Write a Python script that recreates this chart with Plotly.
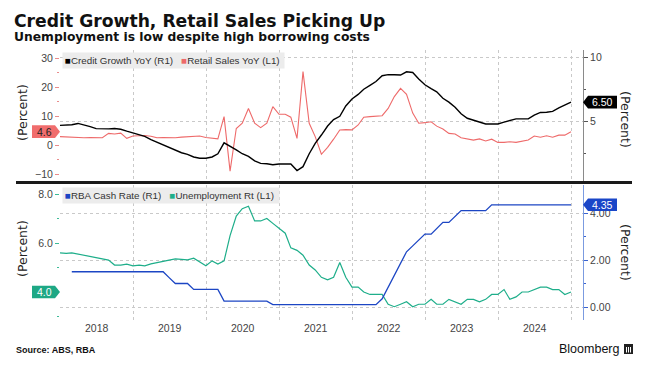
import plotly.graph_objects as go
import pandas as pd

# ---------------- data (month-end, Dec 2017 .. Dec 2024) ----------------
dates = pd.date_range("2017-12-01", periods=85, freq="MS") + pd.offsets.MonthEnd(0)

credit_growth = [4.70, 4.73, 4.75, 4.85, 4.75, 4.60, 4.45, 4.42, 4.43, 4.46,
                 4.40, 4.25, 4.10, 4.00, 3.85, 3.60, 3.40, 3.20, 2.95, 2.80,
                 2.58, 2.45, 2.25, 2.15, 2.15, 2.25, 2.50, 3.35, 3.10, 2.80,
                 2.50, 2.30, 1.95, 1.75, 1.72, 1.65, 1.70, 1.71, 1.70, 1.20,
                 1.50, 2.50, 3.30, 3.95, 4.65, 5.15, 5.40, 6.20, 6.75, 7.10,
                 7.50, 7.80, 8.10, 8.55, 8.63, 8.62, 8.60, 8.85, 8.80, 8.30,
                 7.85, 7.55, 7.30, 6.80, 6.50, 6.10, 5.60, 5.25, 5.10, 4.90,
                 4.81, 4.81, 4.81, 4.95, 5.10, 5.20, 5.20, 5.20, 5.50, 5.70,
                 5.72, 5.78, 6.05, 6.25, 6.50]

retail_sales = [2.9, 2.8, 2.7, 2.5, 2.5, 2.6, 2.5, 2.5, 4.0, 3.8,
                4.1, 2.3, 3.1, 3.2, 3.3, 3.0, 2.5, 2.6, 2.5, 2.5,
                2.7, 2.8, 3.0, 3.1, 2.6, 2.3, 2.1, 9.8, -9.0, 5.7,
                7.5, 12.6, 7.5, 6.0, 7.5, 13.2, 10.6, 10.6, 9.6, 2.3,
                25.3, 7.5, 2.9, -3.2, -0.8, 2.0, 5.2, 5.3, 5.2, 6.9,
                9.6, 9.8, 9.9, 10.1, 12.6, 16.7, 19.5, 17.5, 11.0, 7.5,
                7.7, 8.0, 6.5, 5.5, 4.0, 3.8, 2.5, 2.2, 1.7, 2.1,
                1.4, 2.0, 0.9, 0.9, 1.1, 0.9, 1.3, 1.7, 3.1, 2.7,
                3.2, 2.7, 3.4, 3.4, 4.6]

unemployment = [5.60, 5.58, 5.60, 5.55, 5.50, 5.45, 5.40, 5.35, 5.30, 5.10,
                5.10, 5.14, 5.07, 5.10, 5.07, 5.15, 5.21, 5.25, 5.30, 5.35,
                5.33, 5.31, 5.38, 5.21, 5.07, 5.27, 5.14, 5.27, 6.30, 7.10,
                7.40, 7.50, 6.90, 6.90, 7.00, 6.80, 6.60, 6.40, 5.80, 5.70,
                5.50, 5.10, 4.90, 4.60, 4.50, 4.60, 5.20, 4.60, 4.20, 4.20,
                4.00, 3.90, 3.90, 3.90, 3.50, 3.40, 3.50, 3.60, 3.40, 3.50,
                3.50, 3.70, 3.50, 3.50, 3.70, 3.60, 3.50, 3.70, 3.70, 3.60,
                3.70, 3.90, 3.90, 4.10, 3.70, 3.80, 4.00, 4.00, 4.10, 4.20,
                4.20, 4.10, 4.10, 3.90, 4.00]

cash_rate = [None, None, 1.50, 1.50, 1.50, 1.50, 1.50, 1.50, 1.50, 1.50,
             1.50, 1.50, 1.50, 1.50, 1.50, 1.50, 1.50, 1.50, 1.25, 1.00,
             1.00, 1.00, 0.75, 0.75, 0.75, 0.75, 0.75, 0.25, 0.25, 0.25,
             0.25, 0.25, 0.25, 0.25, 0.25, 0.10, 0.10, 0.10, 0.10, 0.10,
             0.10, 0.10, 0.10, 0.10, 0.10, 0.10, 0.10, 0.10, 0.10, 0.10,
             0.10, 0.10, 0.10, 0.35, 0.85, 1.35, 1.85, 2.35, 2.60, 2.85,
             3.10, 3.10, 3.35, 3.60, 3.60, 3.85, 4.10, 4.10, 4.10, 4.10,
             4.10, 4.35, 4.35, 4.35, 4.35, 4.35, 4.35, 4.35, 4.35, 4.35,
             4.35, 4.35, 4.35, 4.35, 4.35]

series_names = ["Credit Growth YoY (R1)", "Retail Sales YoY (L1)",
                "RBA Cash Rate (R1)", "Unemployment Rt (L1)"]

# ---------------- styling ----------------
C_CREDIT = "#000000"
C_RETAIL = "#ee6a6a"
C_UNEMP = "#1eae8a"
C_CASH = "#1c46c4"
FONT = "Liberation Sans, Arial, sans-serif"
FONT_W = "DejaVu Sans, Verdana, sans-serif"
TICKC = "#444444"

W, H = 657, 374
PL, PR, PT, PB = 60, 583, 50, 320   # plot area in pixels


def px(x):
    return (x - PL) / (PR - PL)


def py(y):
    return (PB - y) / (PB - PT)


fig = go.Figure()

fig.add_trace(go.Scatter(x=dates, y=retail_sales, mode="lines", name=series_names[1],
                         line=dict(color=C_RETAIL, width=1.1), xaxis="x", yaxis="y",
                         showlegend=False))
fig.add_trace(go.Scatter(x=dates, y=credit_growth, mode="lines", name=series_names[0],
                         line=dict(color=C_CREDIT, width=1.4), xaxis="x", yaxis="y2",
                         showlegend=False))
fig.add_trace(go.Scatter(x=dates, y=unemployment, mode="lines", name=series_names[3],
                         line=dict(color=C_UNEMP, width=1.2), xaxis="x2", yaxis="y3",
                         showlegend=False))
fig.add_trace(go.Scatter(x=dates, y=cash_rate, mode="lines", name=series_names[2],
                         line=dict(color=C_CASH, width=1.3), xaxis="x2", yaxis="y4",
                         showlegend=False))

xrange = ["2017-12-31", "2025-03-01"]
top_dom = [py(181), 1.0]
bot_dom = [0.0, py(185)]

common_x = dict(range=xrange, dtick="M12", tick0="2018-01-01", showgrid=True,
                gridcolor="#c9c9c9", griddash="dot", gridwidth=1, zeroline=False,
                showline=False, ticks="")
ytick_font = dict(family=FONT, size=10.5, color=TICKC)

fig.update_layout(
    width=W, height=H,
    margin=dict(l=PL, r=W - PR, t=PT, b=H - PB, pad=0),
    paper_bgcolor="white", plot_bgcolor="white",
    showlegend=False,
    xaxis=dict(domain=[0, 1], anchor="y", showticklabels=False, **common_x),
    xaxis2=dict(domain=[0, 1], anchor="y3", matches="x", showticklabels=True,
                ticklabelmode="period", tickformat="%Y",
                tickfont=dict(family=FONT, size=10.5, color=TICKC), **common_x),
    yaxis=dict(domain=top_dom, anchor="x", side="left",
               range=[(145 - 181) / 2.9, (145 - 50) / 2.9],
               tickvals=[-10, 0, 10, 20, 30], ticks="outside", ticklen=4,
               tickcolor="#e98c8c", tickfont=ytick_font, showgrid=False,
               zeroline=False, showline=False,
               minor=dict(dtick=5, tick0=0, ticks="outside", ticklen=2,
                          tickcolor="#e98c8c", showgrid=False)),
    yaxis2=dict(domain=top_dom, anchor="x", overlaying="y", side="right",
                range=[(186 - 181) / 12.9, (186 - 50) / 12.9],
                tickvals=[5, 10], ticks="outside", ticklen=4, tickcolor="#555555",
                tickfont=ytick_font, showgrid=True, gridcolor="#c9c9c9",
                griddash="dot", zeroline=False, showline=True,
                linecolor="#8a8a8a", linewidth=1,
                minor=dict(tickvals=[2.5, 7.5], ticks="outside", ticklen=2,
                           tickcolor="#555555", showgrid=False)),
    yaxis3=dict(domain=bot_dom, anchor="x2", side="left",
                range=[6 + (243 - 320) / 24.5, 6 + (243 - 185) / 24.5],
                tickvals=[4, 6, 8], tickformat=".1f", ticks="outside", ticklen=4,
                tickcolor="#3dbb98", tickfont=ytick_font, showgrid=False,
                zeroline=False, showline=False,
                minor=dict(tickvals=[3, 5, 7], ticks="outside", ticklen=2,
                           tickcolor="#3dbb98", showgrid=False)),
    yaxis4=dict(domain=bot_dom, anchor="x2", overlaying="y3", side="right",
                range=[(307 - 320) / 23.5, (307 - 185) / 23.5],
                tickvals=[0, 2, 4], tickformat=".2f", ticks="outside", ticklen=4,
                tickcolor="#3a64d0", tickfont=ytick_font, showgrid=True,
                gridcolor="#c9c9c9", griddash="dot", zeroline=False,
                showline=True, linecolor="#7b9be0", linewidth=1,
                minor=dict(tickvals=[1, 3], ticks="outside", ticklen=2,
                           tickcolor="#3a64d0", showgrid=False)),
)

shapes = []
annotations = []

# separator between panels
shapes.append(dict(type="line", xref="paper", yref="paper", x0=px(16), x1=px(632),
                   y0=py(182.5), y1=py(182.5), line=dict(color="#1a1a1a", width=3)))


def tag(side, yref, value, text, bg, fg, ppu):
    d = 6.3 / ppu
    if side == "left":
        xa, xb, xt = px(32), px(55), px(60)
        cx = px(44)
    else:
        xa, xb, xt = px(617), px(588), px(583)
        cx = px(602.5)
    path = (f"M {xa},{value + d} L {xb},{value + d} L {xt},{value} "
            f"L {xb},{value - d} L {xa},{value - d} Z")
    shapes.append(dict(type="path", xref="paper", yref=yref, path=path,
                       fillcolor=bg, line=dict(color=bg, width=0), layer="above"))
    annotations.append(dict(xref="paper", yref=yref, x=cx, y=value, text=text,
                            showarrow=False, xanchor="center", yanchor="middle",
                            font=dict(family=FONT, size=10.5, color=fg)))


tag("left", "y", retail_sales[-1], f"{retail_sales[-1]:.1f}", "#f06d6d", "#222222", 2.9)
tag("right", "y2", credit_growth[-1], f"{credit_growth[-1]:.2f}", "#000000", "#ffffff", 12.9)
tag("left", "y3", unemployment[-1], f"{unemployment[-1]:.1f}", "#1ea885", "#ffffff", 24.5)
tag("right", "y4", cash_rate[-1], f"{cash_rate[-1]:.2f}", "#1a46c8", "#ffffff", 23.5)

# legends (boxes)
legend_font = dict(family=FONT, size=9.8, color="#333333")
annotations.append(dict(
    xref="paper", yref="paper", x=px(62), y=py(52), xanchor="left", yanchor="top",
    text=(f'<span style="color:{C_CREDIT}">■</span>{series_names[0]}   '
          f'<span style="color:{C_RETAIL}">■</span>{series_names[1]} '),
    showarrow=False, bgcolor="#ececec", borderpad=2, font=legend_font, align="left"))
annotations.append(dict(
    xref="paper", yref="paper", x=px(62), y=py(187), xanchor="left", yanchor="top",
    text=(f'<span style="color:{C_CASH}">■</span>{series_names[2]}   '
          f'<span style="color:{C_UNEMP}">■</span>{series_names[3]} '),
    showarrow=False, bgcolor="#ececec", borderpad=2, font=legend_font, align="left"))

# axis titles
for xx, yy, ang in [(22, 112, -90), (22, 248, -90), (626, 119, 90), (626, 252, 90)]:
    annotations.append(dict(xref="paper", yref="paper", x=px(xx), y=py(yy),
                            text="(Percent)", textangle=ang, showarrow=False,
                            xanchor="center", yanchor="middle",
                            font=dict(family=FONT_W, size=12.5, color="#222222")))

# titles
annotations.append(dict(xref="paper", yref="paper", x=px(12), y=py(21.5),
                        xanchor="left", yanchor="middle", showarrow=False,
                        text="<b>Credit Growth, Retail Sales Picking Up</b>",
                        font=dict(family=FONT_W, size=17.2, color="#111111")))
annotations.append(dict(xref="paper", yref="paper", x=px(12), y=py(37),
                        xanchor="left", yanchor="middle", showarrow=False,
                        text="<b>Unemployment is low despite high borrowing costs</b>",
                        font=dict(family=FONT_W, size=12.3, color="#111111")))

# footer
annotations.append(dict(xref="paper", yref="paper", x=px(14), y=py(350),
                        xanchor="left", yanchor="middle", showarrow=False,
                        text="<b>Source: ABS, RBA</b>",
                        font=dict(family=FONT, size=9, color="#111111")))
annotations.append(dict(xref="paper", yref="paper", x=px(621), y=py(349),
                        xanchor="right", yanchor="middle", showarrow=False,
                        text="Bloomberg",
                        font=dict(family=FONT, size=12.5, color="#111111")))
shapes.append(dict(type="rect", xref="paper", yref="paper", x0=px(624), x1=px(633),
                   y0=py(354), y1=py(344), fillcolor="#222222",
                   line=dict(color="#222222", width=0)))
for bx in (626.5, 628.5, 630.5):
    shapes.append(dict(type="line", xref="paper", yref="paper", x0=px(bx), x1=px(bx),
                       y0=py(352.5), y1=py(347), line=dict(color="white", width=1)))

fig.update_layout(shapes=shapes, annotations=annotations)

fig.write_html("out.html", config={"displayModeBar": False},
               post_script="document.body.style.margin='0px';document.body.style.padding='0px';")
